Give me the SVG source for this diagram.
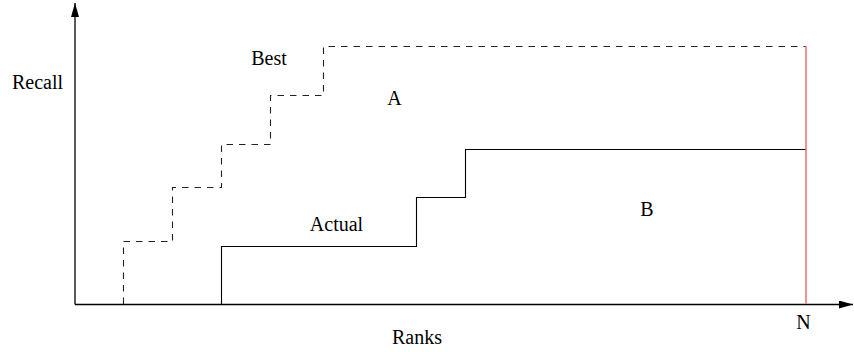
<svg xmlns="http://www.w3.org/2000/svg" width="854" height="352" viewBox="0 0 854 352">
<defs>
<style>
text{font-family:"Liberation Serif","Times New Roman",Times,"DejaVu Serif",serif;font-size:20px;fill:#000;text-anchor:middle}
.ax{stroke:#000;stroke-width:1.3;fill:none}
.best{stroke:#222;stroke-width:1.1;fill:none;stroke-dasharray:6.5 6}
.act{stroke:#000;stroke-width:1.1;fill:none}
.n{stroke:#f46e6e;stroke-width:1.5;fill:none}
</style>
<marker id="arr" viewBox="0 0 14 8" refX="14" refY="4" markerWidth="14" markerHeight="8" markerUnits="userSpaceOnUse" orient="auto">
<path d="M0,0 L14,4 L0,8 z" fill="#000"/>
</marker>
</defs>
<rect width="854" height="352" fill="#fff"/>
<g id="axes">
<path class="ax" d="M75,304.5 V3" marker-end="url(#arr)"/>
<path class="ax" d="M75,304.5 H853" marker-end="url(#arr)"/>
</g>
<g id="curves">
<path id="best-curve" class="best" d="M123.5,304 V241.5 H172.5 V187.5 H221.5 V144.5 H270.5 V95.5 H323.5 V46.5 H806"/>
<path id="actual-curve" class="act" d="M221.5,304 V246.5 H416.5 V197.5 H465.5 V149.5 H806"/>
<path id="n-line" class="n" d="M806,46 V304"/>
</g>
<g id="labels">
<text x="37.5" y="89">Recall</text>
<text x="269" y="65">Best</text>
<text x="394.5" y="105">A</text>
<text x="336.5" y="231">Actual</text>
<text x="647" y="216">B</text>
<text x="417" y="344">Ranks</text>
<text x="803.5" y="328.5">N</text>
</g>
</svg>
